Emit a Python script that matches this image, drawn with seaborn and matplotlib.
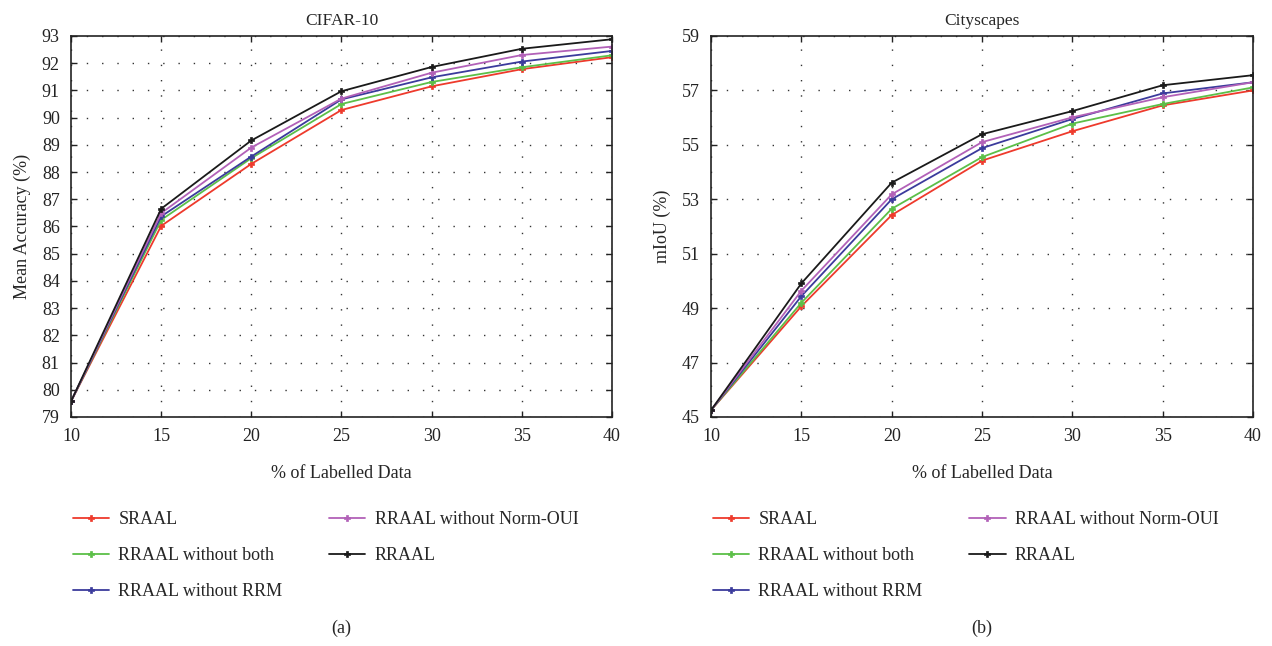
import matplotlib
matplotlib.use("Agg")
import matplotlib.pyplot as plt
import pandas as pd
import seaborn as sns

# % of labelled data
labelled = [10, 15, 20, 25, 30, 35, 40]

methods = [
    "SRAAL",
    "RRAAL without both",
    "RRAAL without RRM",
    "RRAAL without Norm-OUI",
    "RRAAL",
]
colors = ["#ee3a2c", "#5cbf48", "#3b3b9c", "#b261b8", "#1a1a1a"]

# CIFAR-10 mean accuracy (%)
cifar_sraal = [79.57, 86.02, 88.30, 90.28, 91.15, 91.78, 92.22]
cifar_no_both = [79.57, 86.24, 88.51, 90.50, 91.31, 91.85, 92.29]
cifar_no_rrm = [79.57, 86.37, 88.57, 90.67, 91.48, 92.06, 92.45]
cifar_no_norm = [79.57, 86.49, 88.90, 90.70, 91.65, 92.30, 92.61]
cifar_rraal = [79.57, 86.65, 89.16, 90.97, 91.86, 92.53, 92.88]

# Cityscapes mIoU (%)
city_sraal = [45.25, 49.07, 52.42, 54.42, 55.50, 56.45, 57.00]
city_no_both = [45.25, 49.20, 52.65, 54.55, 55.78, 56.50, 57.11]
city_no_rrm = [45.25, 49.44, 53.00, 54.88, 55.95, 56.89, 57.30]
city_no_norm = [45.25, 49.64, 53.18, 55.10, 56.01, 56.75, 57.30]
city_rraal = [45.25, 49.91, 53.61, 55.39, 56.24, 57.19, 57.56]


def long_form(series):
    rows = []
    for name, vals in zip(methods, series):
        for x, v in zip(labelled, vals):
            rows.append({"pct": x, "value": v, "method": name})
    return pd.DataFrame(rows)


cifar_df = long_form([cifar_sraal, cifar_no_both, cifar_no_rrm, cifar_no_norm, cifar_rraal])
city_df = long_form([city_sraal, city_no_both, city_no_rrm, city_no_norm, city_rraal])

sns.set_theme(style="white")
plt.rcParams["font.family"] = ["Liberation Serif", "DejaVu Serif"]

fig = plt.figure(figsize=(12.72, 6.46), dpi=100)
ax1 = fig.add_axes([0.0558, 0.3545, 0.4253, 0.5898])
ax2 = fig.add_axes([0.559, 0.3545, 0.4261, 0.5898])

panels = [
    (ax1, cifar_df, "CIFAR-10", "Mean Accuracy (%)", (79, 93), range(79, 94), "(a)"),
    (ax2, city_df, "Cityscapes", "mIoU (%)", (45, 59), range(45, 60, 2), "(b)"),
]


def solid_markers(lines):
    # marker edges in the line colour instead of seaborn's white
    for ln in lines:
        ln.set_markeredgecolor(ln.get_color())
        ln.set_markerfacecolor(ln.get_color())
        ln.set_markeredgewidth(0.5)


for ax, df, title, ylabel, ylim, yticks, caption in panels:
    sns.lineplot(
        data=df, x="pct", y="value", hue="method", hue_order=methods,
        palette=colors, marker="P", markersize=5, linewidth=1.3, ax=ax,
    )
    solid_markers(ax.lines)
    ax.set_xlim(10, 40)
    ax.set_ylim(*ylim)
    ax.set_xticks(labelled)
    ax.set_yticks(list(yticks))
    ax.grid(True, color="#333333", linestyle=(0, (1, 10)), linewidth=1.0)
    ax.tick_params(direction="in", length=4, width=1.0, labelsize=13, pad=8,
                   colors="#222222", top=True, right=True, bottom=True, left=True)
    for s in ax.spines.values():
        s.set_color("#222222")
        s.set_linewidth(1.2)
    ax.set_title(title, fontsize=12.5, pad=8)
    ax.set_xlabel("% of Labelled Data", fontsize=13, labelpad=14)
    ax.set_ylabel(ylabel, fontsize=13, labelpad=8)
    sns.move_legend(
        ax, "upper left", bbox_to_anchor=(-0.026, -0.205), ncol=2, frameon=False,
        title=None, fontsize=13, handlelength=2.0, handletextpad=0.5,
        labelspacing=1.05, columnspacing=2.6,
    )
    solid_markers(ax.get_legend().get_lines())
    pos = ax.get_position()
    fig.text(pos.x0 + pos.width / 2, 0.027, caption, ha="center", va="center", fontsize=13)

fig.savefig("out.png", dpi=100)
